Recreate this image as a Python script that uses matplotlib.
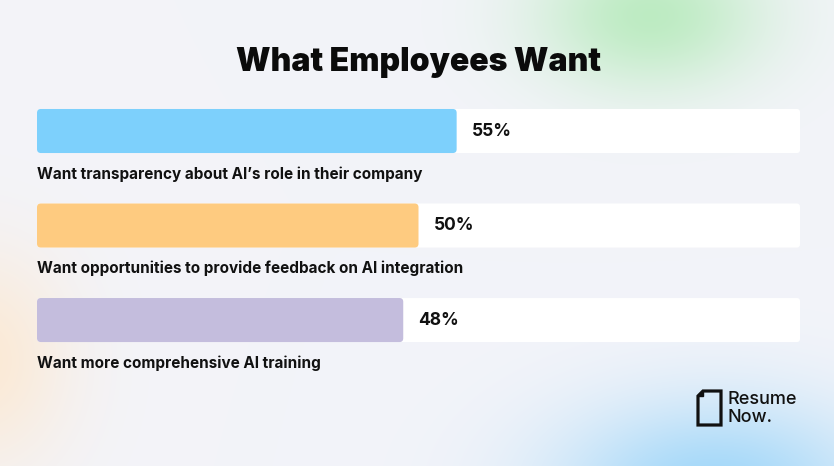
import numpy as np
import matplotlib.pyplot as plt
from matplotlib.patches import FancyBboxPatch, Polygon

# data
categories = [
    "Want transparency about AI\u2019s role in their company",
    "Want opportunities to provide feedback on AI integration",
    "Want more comprehensive AI training",
]
values = [55, 50, 48]
bar_colors = ["#7dd0fc", "#fecb80", "#c4bddd"]
title = "What Employees Want"

W, H = 834, 466
fig = plt.figure(figsize=(W / 100, H / 100), dpi=100)
fig.patch.set_facecolor("#f3f4f9")

# soft background blobs
bg = fig.add_axes([0, 0, 1, 1])
yy, xx = np.mgrid[0:H, 0:W]
img = np.ones((H, W, 3)) * np.array([0xf3, 0xf4, 0xf9]) / 255.0
blobs = [((650, 15), (115, 75), (0.72, 0.92, 0.74), 0.9),
         ((715, 490), (160, 90), (0.62, 0.84, 0.98), 0.95),
         ((-20, 360), (90, 110), (1.0, 0.90, 0.78), 0.7)]
for (cx, cy), (sx, sy), col, a in blobs:
    w = a * np.exp(-(((xx - cx) / sx) ** 2 + ((yy - cy) / sy) ** 2))
    img = img * (1 - w[..., None]) + np.array(col) * w[..., None]
bg.imshow(img, extent=[0, W, H, 0], aspect="auto", interpolation="bilinear")
bg.set_xlim(0, W)
bg.set_ylim(H, 0)
bg.axis("off")

# bar axes
ax = fig.add_axes([37 / W, 1 - 386.2 / H, 763 / W, (386.2 - 83.75) / H])
ax.set_xlim(0, 100)
ax.set_ylim(2.7, -0.5)
ax.axis("off")

bh = 0.466
aspect = (763 / 100) / 94.5
for i, (cat, v, c) in enumerate(zip(categories, values, bar_colors)):
    track = FancyBboxPatch((0, i - bh / 2), 100, bh,
                           boxstyle="round,pad=0,rounding_size=0.4",
                           mutation_aspect=aspect, fc="white", ec="none")
    ax.add_patch(track)
    bar = FancyBboxPatch((0, i - bh / 2), v, bh,
                         boxstyle="round,pad=0,rounding_size=0.5",
                         mutation_aspect=aspect, fc=c, ec="none")
    ax.add_patch(bar)
    ax.text(v + 2.0, i, f"{v}%", va="center", ha="left",
            fontsize=12.5, fontweight="bold", family="Inter", color="#111111")
    ax.text(0, i + 0.455, cat, va="center", ha="left",
            fontsize=11, fontweight="bold", family="Inter", color="#111111")

fig.text(419 / W, 1 - 63 / H, title, ha="center", va="center",
         fontsize=23, fontweight="black", family="Inter", color="#0b0b0b")

# logo
doc = Polygon([(703, 391), (721, 391), (721, 425), (698, 425), (698, 396)],
              closed=True, fc="none", ec="#111111", lw=2.3, joinstyle="miter")
bg.add_patch(doc)
bg.add_patch(Polygon([(698, 396), (703, 396), (703, 391)], closed=True,
                     fc="#111111", ec="#111111", lw=1))
bg.text(728, 400, "Resume", fontsize=13, fontweight="medium", family="Inter",
        va="center", ha="left", color="#111111")
bg.text(728, 417, "Now.", fontsize=13, fontweight="medium", family="Inter",
        va="center", ha="left", color="#111111")

fig.savefig("out.png", dpi=100, facecolor=fig.get_facecolor())
